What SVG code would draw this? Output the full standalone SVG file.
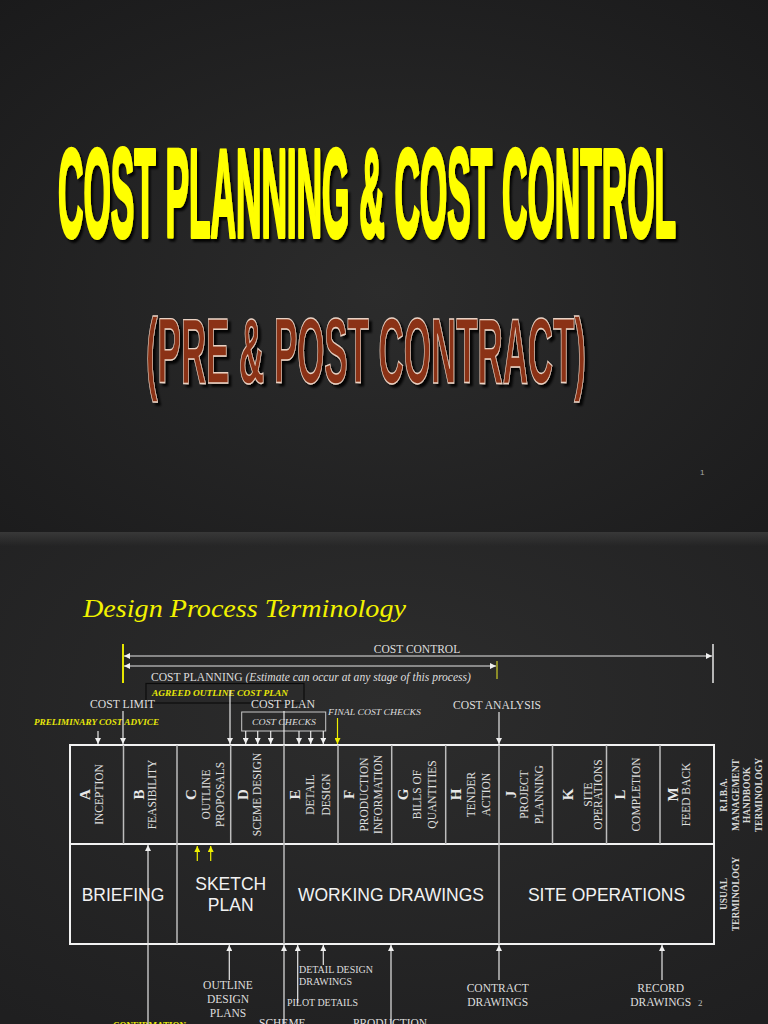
<svg xmlns="http://www.w3.org/2000/svg" width="768" height="1024" viewBox="0 0 768 1024">
<defs>
<radialGradient id="bg1" cx="0.5" cy="0.55" r="0.75">
<stop offset="0" stop-color="#2c2c2c"/>
<stop offset="1" stop-color="#1a1a1b"/>
</radialGradient>
<radialGradient id="bg2" cx="0.5" cy="0.35" r="0.8">
<stop offset="0" stop-color="#2d2d2d"/>
<stop offset="1" stop-color="#1f1f20"/>
</radialGradient>
<linearGradient id="topband" x1="0" y1="0" x2="0" y2="1">
<stop offset="0" stop-color="#383838" stop-opacity="1"/>
<stop offset="1" stop-color="#383838" stop-opacity="0"/>
</linearGradient>
<filter id="shadow" x="-5%" y="-10%" width="110%" height="130%">
<feDropShadow dx="8" dy="3" stdDeviation="3 1" flood-color="#000" flood-opacity="0.9"/>
</filter>
<marker id="ah" viewBox="0 0 6 6" refX="6" refY="3" markerWidth="6" markerHeight="6" markerUnits="userSpaceOnUse" orient="auto-start-reverse">
<path d="M0,0 L6,3 L0,6 z" fill="#f0f0f0"/>
</marker>
<marker id="ahy" viewBox="0 0 6 6" refX="6" refY="3" markerWidth="6" markerHeight="6" markerUnits="userSpaceOnUse" orient="auto-start-reverse">
<path d="M0,0 L6,3 L0,6 z" fill="#f0f000"/>
</marker>
<style>
.serif{font-family:"Liberation Serif","Times New Roman",serif;}
.sans{font-family:"Liberation Sans",Arial,sans-serif;}
.lbl{font-family:"Liberation Serif","Times New Roman",serif;font-size:11.5px;fill:#dedede;}
.sm{font-family:"Liberation Serif","Times New Roman",serif;font-size:10px;fill:#dedede;}
.yel{font-family:"Liberation Serif","Times New Roman",serif;font-size:9px;font-style:italic;font-weight:bold;fill:#e6e60a;}
.ital{font-family:"Liberation Serif","Times New Roman",serif;font-size:9px;font-style:italic;fill:#dedede;}
.let{font-family:"Liberation Serif","Times New Roman",serif;font-size:15px;font-weight:bold;fill:#e8e8e8;text-anchor:middle;}
.desc{font-family:"Liberation Serif","Times New Roman",serif;font-size:11.5px;fill:#e0e0e0;text-anchor:middle;}
.side{font-family:"Liberation Serif","Times New Roman",serif;font-size:9.5px;font-weight:bold;fill:#d8d8d8;text-anchor:middle;}
.big{font-family:"Liberation Sans",Arial,sans-serif;font-size:17.5px;fill:#f2f2f2;text-anchor:middle;}
.ln{fill:none;stroke:#e6e6e6;stroke-width:1.2;}
.lny{fill:none;stroke:#f0f000;stroke-width:1.2;}
.div{stroke:#bdbdbd;stroke-width:1.5;}
.nss{vector-effect:non-scaling-stroke;}
</style>
</defs>

<!-- Slide 1 -->
<rect x="0" y="0" width="768" height="532" fill="url(#bg1)"/>
<g id="title">
<text class="sans nss" filter="url(#shadow)" transform="translate(58,237) scale(0.2794,1)" x="0" y="0" font-size="126" font-weight="bold" textLength="2212" lengthAdjust="spacingAndGlyphs" fill="#ffff00" stroke="#ffff00" stroke-width="3" stroke-linejoin="round">COST PLANNING &amp; COST CONTROL</text>
</g>
<g id="subtitle">
<text class="sans nss" filter="url(#shadow)" transform="translate(146,383) scale(0.3793,1)" x="0" y="0" font-size="92" font-weight="bold" textLength="1160" lengthAdjust="spacingAndGlyphs" fill="#8b3314" stroke="#e9d2c4" stroke-width="1.1">(PRE &amp; POST CONTRACT)</text>
</g>
<text class="sans" x="700" y="475" font-size="8" fill="#a8a8a8">1</text>

<!-- Slide 2 -->
<rect x="0" y="532" width="768" height="492" fill="url(#bg2)"/>
<rect x="0" y="532" width="768" height="14" fill="url(#topband)"/>

<text class="serif" x="83" y="617" font-size="26" font-style="italic" fill="#f2f200" textLength="323" lengthAdjust="spacingAndGlyphs">Design Process Terminology</text>

<!-- Table -->
<g id="table">
<rect x="70" y="745" width="644" height="199" fill="none" stroke="#f2f2f2" stroke-width="2"/>
<line x1="70" y1="844" x2="714" y2="844" stroke="#f2f2f2" stroke-width="2"/>
<g class="div">
<line x1="123.5" y1="745" x2="123.5" y2="844"/>
<line x1="177" y1="745" x2="177" y2="844"/>
<line x1="230.7" y1="745" x2="230.7" y2="844"/>
<line x1="284" y1="745" x2="284" y2="844"/>
<line x1="338" y1="745" x2="338" y2="844"/>
<line x1="391.7" y1="745" x2="391.7" y2="844"/>
<line x1="445.7" y1="745" x2="445.7" y2="844"/>
<line x1="499" y1="745" x2="499" y2="844"/>
<line x1="552.5" y1="745" x2="552.5" y2="844"/>
<line x1="606.5" y1="745" x2="606.5" y2="844"/>
<line x1="660" y1="745" x2="660" y2="844"/>
<line x1="177" y1="844" x2="177" y2="944"/>
<line x1="284" y1="844" x2="284" y2="944"/>
<line x1="499" y1="844" x2="499" y2="944"/>
</g>
</g>

<g id="stage-A">
<text class="let" transform="translate(90,794.5) rotate(-90)">A</text>
<text class="desc" transform="translate(103.3,794.5) rotate(-90)">INCEPTION</text>
</g>
<g id="stage-B">
<text class="let" transform="translate(143.7,794.5) rotate(-90)">B</text>
<text class="desc" transform="translate(155.8,794.5) rotate(-90)">FEASIBILITY</text>
</g>
<g id="stage-C">
<text class="let" transform="translate(196,794.5) rotate(-90)">C</text>
<text class="desc" transform="translate(209.5,794.5) rotate(-90)">OUTLINE</text>
<text class="desc" transform="translate(223.8,794.5) rotate(-90)">PROPOSALS</text>
</g>
<g id="stage-D">
<text class="let" transform="translate(248,794.5) rotate(-90)">D</text>
<text class="desc" transform="translate(260.8,794.5) rotate(-90)">SCEME DESIGN</text>
</g>
<g id="stage-E">
<text class="let" transform="translate(299.7,794.5) rotate(-90)">E</text>
<text class="desc" transform="translate(314.3,794.5) rotate(-90)">DETAIL</text>
<text class="desc" transform="translate(329.8,794.5) rotate(-90)">DESIGN</text>
</g>
<g id="stage-F">
<text class="let" transform="translate(354,794.5) rotate(-90)">F</text>
<text class="desc" transform="translate(367.8,794.5) rotate(-90)">PRODUCTION</text>
<text class="desc" transform="translate(382.3,794.5) rotate(-90)">INFORMATION</text>
</g>
<g id="stage-G">
<text class="let" transform="translate(407.5,794.5) rotate(-90)">G</text>
<text class="desc" transform="translate(421.3,794.5) rotate(-90)">BILLS OF</text>
<text class="desc" transform="translate(436.3,794.5) rotate(-90)">QUANTITIES</text>
</g>
<g id="stage-H">
<text class="let" transform="translate(461,794.5) rotate(-90)">H</text>
<text class="desc" transform="translate(474.8,794.5) rotate(-90)">TENDER</text>
<text class="desc" transform="translate(489.8,794.5) rotate(-90)">ACTION</text>
</g>
<g id="stage-J">
<text class="let" transform="translate(516,794.5) rotate(-90)">J</text>
<text class="desc" transform="translate(527.8,794.5) rotate(-90)">PROJECT</text>
<text class="desc" transform="translate(542.8,794.5) rotate(-90)">PLANNING</text>
</g>
<g id="stage-K">
<text class="let" transform="translate(572.5,794.5) rotate(-90)">K</text>
<text class="desc" transform="translate(591.8,794.5) rotate(-90)">SITE</text>
<text class="desc" transform="translate(602.1,794.5) rotate(-90)">OPERATIONS</text>
</g>
<g id="stage-L">
<text class="let" transform="translate(625,794.5) rotate(-90)">L</text>
<text class="desc" transform="translate(640.3,794.5) rotate(-90)">COMPLETION</text>
</g>
<g id="stage-M">
<text class="let" transform="translate(678,794.5) rotate(-90)">M</text>
<text class="desc" transform="translate(690.3,794.5) rotate(-90)">FEED BACK</text>
</g>

<g id="riba-label">
<text class="side" transform="translate(726.5,795) rotate(-90)">R.I.B.A.</text>
<text class="side" transform="translate(739,795) rotate(-90)">MANAGEMENT</text>
<text class="side" transform="translate(750,795) rotate(-90)">HANDBOOK</text>
<text class="side" transform="translate(762.3,795) rotate(-90)">TERMINOLOGY</text>
</g>
<g id="usual-label">
<text class="side" transform="translate(726.5,894) rotate(-90)">USUAL</text>
<text class="side" transform="translate(739,894) rotate(-90)">TERMINOLOGY</text>
</g>

<g id="phase-briefing"><text class="big" x="123" y="900.7">BRIEFING</text></g>
<g id="phase-sketch"><text class="big" x="230.7" y="890">SKETCH</text><text class="big" x="230.7" y="911">PLAN</text></g>
<g id="phase-working"><text class="big" x="391" y="900.7">WORKING DRAWINGS</text></g>
<g id="phase-site"><text class="big" x="606.5" y="900.7">SITE OPERATIONS</text></g>

<!-- Top labels -->
<g id="label-cost-control"><text class="lbl" x="417" y="653" text-anchor="middle">COST CONTROL</text></g>
<g id="label-cost-planning"><text class="lbl" x="151" y="681" textLength="320" lengthAdjust="spacingAndGlyphs">COST PLANNING <tspan font-style="italic">(Estimate can occur at any stage of this process)</tspan></text></g>
<g id="label-agreed">
<rect x="146" y="683.5" width="158" height="19.5" fill="none" stroke="#0c0c0c" stroke-width="1.2"/>
<text class="yel" x="152" y="696" textLength="136" lengthAdjust="spacingAndGlyphs">AGREED OUTLINE COST PLAN</text>
</g>
<g id="label-cost-limit"><text class="lbl" x="90" y="708" textLength="65" lengthAdjust="spacingAndGlyphs">COST LIMIT</text></g>
<g id="label-preliminary"><text class="yel" x="34" y="725" textLength="125" lengthAdjust="spacingAndGlyphs">PRELIMINARY COST ADVICE</text></g>
<g id="label-cost-plan"><text class="lbl" x="251" y="708" textLength="64" lengthAdjust="spacingAndGlyphs">COST PLAN</text></g>
<g id="label-cost-checks">
<rect x="241.7" y="712" width="84" height="19" fill="none" stroke="#c8c8c8" stroke-width="1"/>
<text class="ital" x="252" y="725" font-size="9.5" textLength="64" lengthAdjust="spacingAndGlyphs">COST CHECKS</text>
</g>
<g id="label-final"><text class="ital" x="328" y="715" textLength="93" lengthAdjust="spacingAndGlyphs">FINAL COST CHECKS</text></g>
<g id="label-cost-analysis"><text class="lbl" x="453" y="709" textLength="88" lengthAdjust="spacingAndGlyphs">COST ANALYSIS</text></g>

<!-- Bottom labels -->
<g id="label-outline-design">
<text class="lbl" x="228" y="989" font-size="12" text-anchor="middle">OUTLINE</text>
<text class="lbl" x="228" y="1003" font-size="12" text-anchor="middle">DESIGN</text>
<text class="lbl" x="228" y="1017" font-size="12" text-anchor="middle">PLANS</text>
</g>
<g id="label-detail-design">
<text class="sm" x="299" y="973" textLength="74" lengthAdjust="spacingAndGlyphs">DETAIL DESIGN</text>
<text class="sm" x="299" y="985">DRAWINGS</text>
</g>
<g id="label-pilot"><text class="sm" x="287" y="1005.7" textLength="71" lengthAdjust="spacingAndGlyphs">PILOT DETAILS</text></g>
<g id="label-confirmation"><text class="serif" x="113" y="1029" font-size="10" font-weight="bold" fill="#e6e60a" textLength="73" lengthAdjust="spacingAndGlyphs">CONFIRMATION</text></g>
<g id="label-scheme"><text class="lbl" x="259" y="1027" font-size="11.6">SCHEME</text></g>
<g id="label-production"><text class="lbl" x="353" y="1027" font-size="11.6">PRODUCTION</text></g>
<g id="label-contract">
<text class="lbl" x="497.7" y="991.7" font-size="11.8" text-anchor="middle">CONTRACT</text>
<text class="lbl" x="497.7" y="1005.7" font-size="11.8" text-anchor="middle">DRAWINGS</text>
</g>
<g id="label-record">
<text class="lbl" x="660.7" y="991.7" font-size="11.8" text-anchor="middle">RECORD</text>
<text class="lbl" x="660.7" y="1005.7" font-size="11.8" text-anchor="middle">DRAWINGS</text>
</g>
<text class="serif" x="698" y="1006" font-size="9" fill="#bdbdbd">2</text>

<!-- Connectors -->
<g id="connectors">
<line class="ln" x1="124" y1="656" x2="712" y2="656" marker-start="url(#ah)" marker-end="url(#ah)"/>
<line class="ln" x1="124" y1="666" x2="496" y2="666" marker-start="url(#ah)" marker-end="url(#ah)"/>
<line x1="123" y1="644" x2="123" y2="683" stroke="#e6e600" stroke-width="2"/>
<line x1="713" y1="644" x2="713" y2="683" stroke="#e6e6e6" stroke-width="1.5"/>
<line x1="497" y1="661" x2="497" y2="679" stroke="#8c8c28" stroke-width="2"/>

<line class="ln" x1="98" y1="731" x2="98" y2="744" marker-end="url(#ah)"/>
<line class="ln" x1="123" y1="711" x2="123" y2="744" marker-end="url(#ah)"/>
<line class="ln" x1="230" y1="690" x2="230" y2="744" marker-end="url(#ah)"/>
<line class="ln" x1="245.7" y1="731" x2="245.7" y2="744" marker-end="url(#ah)"/>
<line class="ln" x1="257.7" y1="731" x2="257.7" y2="744" marker-end="url(#ah)"/>
<line class="ln" x1="270.7" y1="731" x2="270.7" y2="744" marker-end="url(#ah)"/>
<line class="ln" x1="299" y1="731" x2="299" y2="744" marker-end="url(#ah)"/>
<line class="ln" x1="310.7" y1="731" x2="310.7" y2="744" marker-end="url(#ah)"/>
<line class="ln" x1="323.3" y1="731" x2="323.3" y2="744" marker-end="url(#ah)"/>
<line class="ln" x1="284" y1="711" x2="284" y2="745"/>
<line class="lny" x1="337.5" y1="718" x2="337.5" y2="744" marker-end="url(#ahy)"/>
<line class="ln" x1="499" y1="712" x2="499" y2="744" marker-end="url(#ah)"/>

<line class="ln" x1="148" y1="1024" x2="148" y2="845" marker-end="url(#ah)"/>
<line class="lny" x1="197.3" y1="861" x2="197.3" y2="846" marker-end="url(#ahy)"/>
<line class="lny" x1="210.7" y1="861" x2="210.7" y2="846" marker-end="url(#ahy)"/>
<line class="ln" x1="229.3" y1="980" x2="229.3" y2="945" marker-end="url(#ah)"/>
<line class="ln" x1="284" y1="1024" x2="284" y2="945" marker-end="url(#ah)"/>
<line class="ln" x1="297.7" y1="1003" x2="297.7" y2="945" marker-end="url(#ah)"/>
<line class="ln" x1="323.3" y1="965" x2="323.3" y2="945" marker-end="url(#ah)"/>
<line class="ln" x1="391" y1="1024" x2="391" y2="945" marker-end="url(#ah)"/>
<line class="ln" x1="499" y1="980" x2="499" y2="945" marker-end="url(#ah)"/>
<line class="ln" x1="662" y1="980" x2="662" y2="945" marker-end="url(#ah)"/>
</g>
</svg>
